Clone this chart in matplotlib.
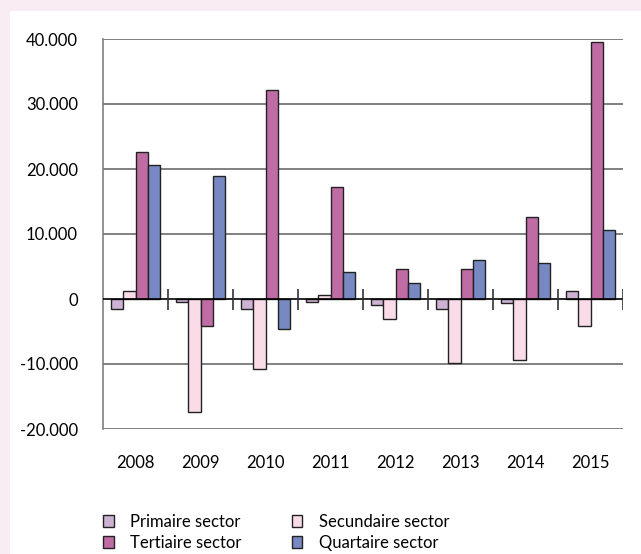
import numpy as np
import matplotlib.pyplot as plt
from matplotlib.patches import Rectangle
from matplotlib.ticker import FuncFormatter

plt.rcParams['font.family'] = ['Lato', 'DejaVu Sans']

# data
years = ['2008', '2009', '2010', '2011', '2012', '2013', '2014', '2015']
primaire = [-1500, -450, -1500, -500, -850, -1600, -550, 1200]
secundaire = [1200, -17400, -10800, 600, -3100, -9800, -9450, -4100]
tertiaire = [22550, -4150, 32150, 17300, 4550, 4550, 12550, 39500]
quartaire = [20650, 18950, -4600, 4100, 2450, 6000, 5550, 10600]

series = [
    ('Primaire sector', primaire, '#CDB2D4'),
    ('Secundaire sector', secundaire, '#F9DCE8'),
    ('Tertiaire sector', tertiaire, '#BF6CA4'),
    ('Quartaire sector', quartaire, '#7788C2'),
]

fig = plt.figure(figsize=(6.41, 5.54), dpi=100, facecolor='white')
# roze rand boven en links
fig.patches.append(Rectangle((0, 1 - 11/554), 1, 11/554, transform=fig.transFigure,
                             facecolor='#F9EDF3', edgecolor='none', zorder=-1))
fig.patches.append(Rectangle((0, 0), 10/641, 1, transform=fig.transFigure,
                             facecolor='#F9EDF3', edgecolor='none', zorder=-1))

ax = fig.add_axes([103/641, 1 - 429/554, 520/641, 390/554])

x = np.arange(len(years))
w = 0.192
handles = {}
for i, (name, vals, col) in enumerate(series):
    b = ax.bar(x - 1.5*w + i*w, vals, width=w, color=col, edgecolor='#222222',
               linewidth=1, zorder=3, label=name)
    handles[name] = b

ax.set_xlim(-0.5, len(years) - 0.5)
ax.set_ylim(-20000, 40000)
ax.set_yticks(np.arange(-20000, 40001, 10000))
ax.yaxis.set_major_formatter(FuncFormatter(lambda v, p: f'{int(v):,}'.replace(',', '.')))
ax.tick_params(axis='y', length=0, pad=18, labelsize=12)
ax.set_xticks(x)
ax.set_xticklabels(years)
ax.tick_params(axis='x', length=0, pad=19, labelsize=12)

for v in np.arange(-20000, 40001, 10000):
    if v != 0:
        ax.axhline(v, color='#6b6b6b', linewidth=1.2, zorder=1)
ax.axhline(0, color='black', linewidth=1.2, zorder=4)
ax.vlines(x[1:] - 0.5, -1650, 1550, color='#333333', linewidth=1.2, zorder=4)
ax.vlines(len(years) - 0.5, -1650, 1550, color='#333333', linewidth=1.2, zorder=4)

for s in ['top', 'right', 'bottom']:
    ax.spines[s].set_visible(False)
ax.spines['left'].set_color('#7f7f7f')
ax.spines['left'].set_linewidth(1.2)

order = ['Primaire sector', 'Tertiaire sector', 'Secundaire sector', 'Quartaire sector']
fig.legend([handles[n] for n in order], order, ncol=2, frameon=False, fontsize=12,
           loc='upper left', bbox_to_anchor=(96/641, 1 - 507/554),
           handlelength=0.65, handleheight=0.75, handletextpad=1.0,
           columnspacing=3.0, labelspacing=0.32, borderaxespad=0)

fig.savefig('out.png', dpi=100, facecolor='white')
